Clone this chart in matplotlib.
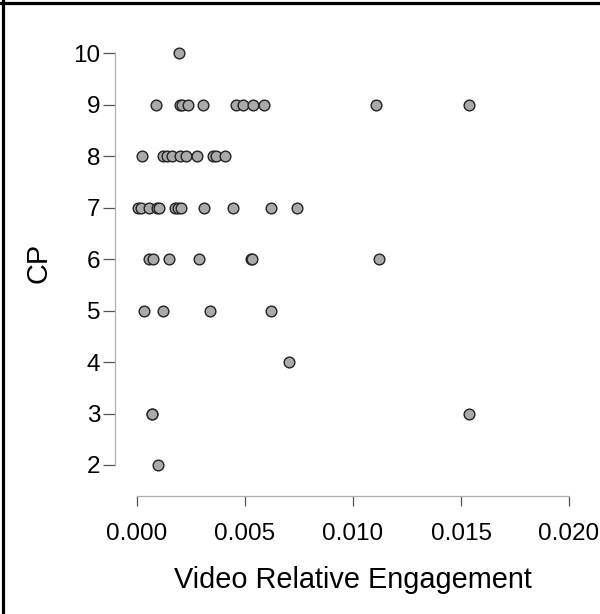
import matplotlib
matplotlib.use("Agg")
import matplotlib.pyplot as plt
from matplotlib.lines import Line2D

# Video relative engagement vs CP
engagement = [
    0.00194,                                   # CP 10
    0.00086, 0.00199, 0.00210, 0.00238, 0.00304, 0.00457, 0.00492,
    0.00535, 0.00588, 0.01105, 0.01537,        # CP 9
    0.00022, 0.00122, 0.00137, 0.00160, 0.00199, 0.00225, 0.00279,
    0.00350, 0.00366, 0.00407,                 # CP 8
    0.00006, 0.00017, 0.00054, 0.00091, 0.00102, 0.00176, 0.00188,
    0.00204, 0.00312, 0.00443, 0.00620, 0.00741,  # CP 7
    0.00057, 0.00076, 0.00148, 0.00289, 0.00528, 0.00532, 0.01120,  # CP 6
    0.00034, 0.00120, 0.00340, 0.00620,        # CP 5
    0.00704,                                   # CP 4
    0.00068, 0.00071, 0.01538,                 # CP 3
    0.00097,                                   # CP 2
]
cp = ([10] + [9] * 11 + [8] * 10 + [7] * 12 + [6] * 7 + [5] * 4 + [4]
      + [3] * 3 + [2])

x_ticks = [0.000, 0.005, 0.010, 0.015, 0.020]
x_tick_labels = ["0.000", "0.005", "0.010", "0.015", "0.020"]
y_ticks = [2, 3, 4, 5, 6, 7, 8, 9, 10]

plt.rcParams["font.family"] = ["Liberation Sans", "DejaVu Sans"]

fig = plt.figure(figsize=(6.0, 6.14), dpi=100)
ax = fig.add_axes([0.19167, 0.19218, 0.79167, 0.75896])

ax.plot(engagement, cp, linestyle="none", marker="o", markersize=7.7,
        markerfacecolor="#aaaaaa", markeredgecolor="#222222",
        markeredgewidth=1.0, clip_on=False, zorder=3)

ax.set_xlim(-0.001019, 0.02097)
ax.set_ylim(1.398, 10.447)

for side in ("top", "right"):
    ax.spines[side].set_visible(False)
ax.spines["left"].set_bounds(2, 10)
ax.spines["bottom"].set_bounds(0, 0.02)
for side in ("left", "bottom"):
    ax.spines[side].set_color("#b0b0b0")
    ax.spines[side].set_linewidth(0.9)

ax.set_xticks(x_ticks)
ax.set_xticklabels(x_tick_labels)
ax.set_yticks(y_ticks)
ax.tick_params(axis="both", direction="out", color="#555555", width=0.9,
               labelsize=17.5, labelcolor="black")
ax.tick_params(axis="x", length=7.5, pad=12)
ax.tick_params(axis="y", length=8.5, pad=2)

ax.set_xlabel("Video Relative Engagement", fontsize=20.8, labelpad=15)
ax.set_ylabel("CP", fontsize=20.8, labelpad=15)

# frame of the surrounding panel (top and left edges visible)
fig.add_artist(Line2D([0, 1], [1 - 2.5 / 614] * 2, transform=fig.transFigure,
                      color="black", linewidth=2.3))
fig.add_artist(Line2D([2.5 / 600] * 2, [0, 1], transform=fig.transFigure,
                      color="black", linewidth=2.3))

fig.savefig("out.png", dpi=100)
